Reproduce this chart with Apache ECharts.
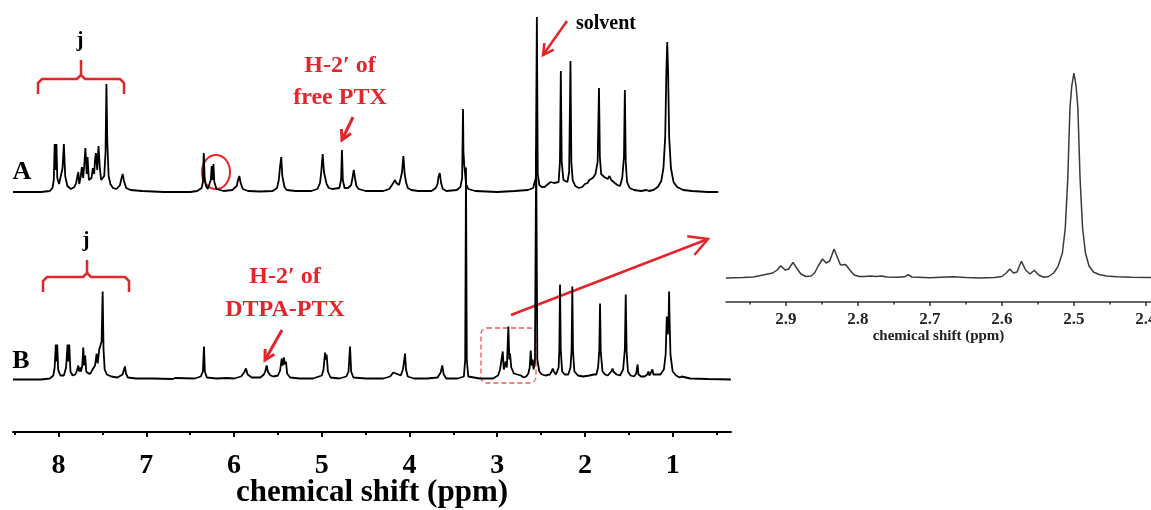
<!DOCTYPE html>
<html>
<head>
<meta charset="utf-8">
<title>1H NMR</title>
<script src="https://cdn.jsdelivr.net/npm/echarts@6/dist/echarts.min.js"></script>
<style>
    html, body { margin: 0; padding: 0; background: #fff; }
    #chart { width: 1151px; height: 510px; }
</style>
</head>
<body>
<div id="chart"></div>
<script>
// 谱图 A：游离 PTX  [ppm, 强度]
const spectrumA = [
    [8.52, 0], [8.20, 0], [8.10, 1], [8.07, 4], [8.055, 12], [8.045, 48], [8.035, 22], [8.025, 48], [8.015, 14],
    [7.995, 8], [7.975, 10], [7.955, 24], [7.94, 48], [7.925, 16], [7.90, 6], [7.86, 3], [7.82, 5], [7.80, 9],
    [7.785, 16], [7.775, 20], [7.765, 8], [7.75, 14], [7.735, 25], [7.72, 14], [7.705, 30], [7.695, 44], [7.68, 18],
    [7.67, 35], [7.655, 12], [7.64, 10], [7.625, 14], [7.61, 24], [7.595, 18], [7.585, 32], [7.575, 39], [7.56, 22],
    [7.545, 46], [7.53, 24], [7.515, 12], [7.50, 10], [7.48, 16], [7.465, 40], [7.455, 108], [7.445, 50], [7.43, 16],
    [7.41, 8], [7.38, 4], [7.34, 3], [7.30, 7], [7.285, 13], [7.27, 18], [7.255, 11], [7.23, 4], [7.18, 2], [7.05, 1],
    [6.80, 0], [6.50, 0], [6.42, 1], [6.37, 4], [6.355, 10], [6.345, 39], [6.335, 14], [6.32, 6], [6.30, 3],
    [6.28, 5], [6.265, 12], [6.255, 26], [6.245, 12], [6.235, 28], [6.225, 10], [6.20, 3], [6.12, 1], [6.02, 2],
    [5.97, 6], [5.955, 12], [5.94, 16], [5.925, 9], [5.90, 3], [5.84, 1], [5.70, 0.5], [5.56, 1], [5.51, 4],
    [5.49, 12], [5.475, 26], [5.462, 35], [5.45, 16], [5.44, 14], [5.425, 5], [5.40, 2], [5.30, 1], [5.12, 1],
    [5.05, 3], [5.02, 9], [5.005, 21], [4.99, 38], [4.975, 20], [4.96, 18], [4.945, 8], [4.92, 4], [4.88, 3],
    [4.80, 4], [4.78, 12], [4.77, 42], [4.76, 12], [4.74, 4], [4.70, 4], [4.665, 7], [4.65, 14], [4.635, 22],
    [4.62, 13], [4.605, 6], [4.58, 3], [4.50, 1], [4.30, 1], [4.23, 3], [4.20, 7], [4.19, 9], [4.18, 6],
    [4.165, 12], [4.15, 9], [4.135, 11], [4.12, 7], [4.10, 14], [4.085, 20], [4.07, 36], [4.055, 18], [4.04, 10],
    [4.02, 4], [3.98, 2], [3.90, 1], [3.75, 1], [3.70, 4], [3.68, 8], [3.67, 15], [3.655, 19], [3.64, 9],
    [3.62, 3], [3.58, 1], [3.46, 2], [3.42, 5], [3.40, 14], [3.39, 83], [3.385, 40], [3.375, 26], [3.365, 24],
    [3.355, 8], [3.33, 3], [3.25, 1], [3.00, 0], [2.80, 1], [2.65, 2], [2.59, 4], [2.56, 14], [2.548, 175],
    [2.538, 18], [2.52, 7], [2.49, 5], [2.46, 5], [2.42, 8], [2.39, 10], [2.37, 12], [2.35, 9], [2.33, 7],
    [2.30, 10], [2.285, 30], [2.275, 121], [2.265, 30], [2.245, 12], [2.225, 10], [2.20, 10], [2.18, 20],
    [2.165, 131], [2.155, 30], [2.14, 12], [2.11, 6], [2.07, 4], [2.03, 5], [2.00, 8], [1.97, 9], [1.95, 12],
    [1.93, 10], [1.91, 14], [1.88, 18], [1.855, 30], [1.84, 104], [1.83, 35], [1.815, 18], [1.80, 20],
    [1.78, 15], [1.76, 17], [1.74, 13], [1.72, 16], [1.70, 12], [1.68, 14], [1.66, 9], [1.63, 7], [1.60, 6],
    [1.575, 14], [1.555, 35], [1.545, 102], [1.535, 30], [1.52, 10], [1.49, 4], [1.44, 2], [1.36, 1],
    [1.30, 2], [1.285, 4], [1.27, 1], [1.22, 2], [1.17, 5], [1.13, 11], [1.105, 24], [1.085, 55], [1.072, 120],
    [1.062, 150], [1.052, 120], [1.04, 55], [1.02, 24], [0.99, 10], [0.95, 5], [0.88, 2], [0.78, 1], [0.60, 0],
    [0.48, 0]
]

// 谱图 B：DTPA-PTX
const spectrumB = [
    [8.52, 0], [8.20, 0], [8.10, 1], [8.06, 4], [8.045, 12], [8.032, 35], [8.024, 18], [8.016, 35], [8.005, 10],
    [7.98, 4], [7.94, 4], [7.915, 12], [7.898, 35], [7.889, 18], [7.879, 35], [7.865, 8], [7.84, 4], [7.81, 5],
    [7.79, 9], [7.776, 14], [7.767, 8], [7.757, 12], [7.745, 8], [7.73, 14], [7.719, 32], [7.709, 14],
    [7.697, 24], [7.685, 8], [7.66, 6], [7.635, 6], [7.62, 9], [7.612, 11], [7.60, 8], [7.585, 14], [7.567, 26],
    [7.555, 16], [7.537, 30], [7.525, 30], [7.51, 38], [7.498, 88], [7.488, 30], [7.475, 10], [7.45, 5],
    [7.40, 3], [7.33, 2], [7.27, 5], [7.255, 10], [7.244, 13], [7.232, 6], [7.21, 2], [7.12, 1], [7.00, 1],
    [6.93, 1], [6.92, 2.5], [6.91, 1], [6.70, 0.5], [6.67, 1.5], [6.65, 0.5], [6.45, 1], [6.38, 3], [6.355, 8],
    [6.343, 33], [6.333, 8], [6.31, 2], [6.20, 1], [6.08, 1.5], [6.00, 1], [5.92, 3], [5.885, 7], [5.864, 11],
    [5.845, 5], [5.80, 2], [5.70, 2], [5.66, 5], [5.645, 8], [5.628, 14], [5.615, 8], [5.598, 9], [5.585, 4],
    [5.55, 3], [5.50, 4], [5.475, 9], [5.457, 21], [5.445, 14], [5.431, 22], [5.42, 15], [5.408, 18], [5.395, 6],
    [5.36, 2], [5.25, 1], [5.10, 1], [5.00, 4], [4.98, 10], [4.963, 27], [4.954, 20], [4.945, 25], [4.93, 8],
    [4.90, 2], [4.80, 1], [4.72, 3], [4.695, 8], [4.678, 33], [4.665, 8], [4.64, 2], [4.50, 1], [4.30, 1],
    [4.22, 3], [4.20, 5], [4.185, 7], [4.17, 5], [4.155, 6], [4.14, 8], [4.125, 5], [4.10, 4], [4.075, 10],
    [4.062, 18], [4.051, 26], [4.04, 10], [4.02, 3], [3.95, 1], [3.80, 1], [3.68, 2], [3.645, 7], [3.626, 14],
    [3.61, 5], [3.58, 1], [3.45, 1], [3.38, 3], [3.365, 20], [3.356, 212], [3.347, 20], [3.33, 3], [3.20, 1],
    [3.05, 1], [2.99, 4], [2.968, 10], [2.95, 12], [2.937, 28], [2.925, 10], [2.912, 14], [2.903, 18], [2.89, 12],
    [2.873, 53], [2.862, 20], [2.854, 26], [2.84, 12], [2.825, 10], [2.81, 6], [2.79, 4], [2.77, 5], [2.75, 3],
    [2.73, 4], [2.70, 2], [2.67, 3], [2.645, 6], [2.63, 12], [2.618, 29], [2.607, 14], [2.595, 20], [2.585, 10],
    [2.57, 18], [2.556, 230], [2.543, 20], [2.52, 8], [2.49, 5], [2.45, 4], [2.40, 5], [2.38, 8], [2.367, 11],
    [2.355, 8], [2.33, 5], [2.30, 12], [2.292, 30], [2.284, 95], [2.276, 30], [2.26, 8], [2.23, 5], [2.19, 5],
    [2.165, 12], [2.152, 30], [2.144, 93], [2.136, 28], [2.12, 8], [2.08, 4], [2.02, 3], [1.95, 4], [1.90, 5],
    [1.87, 5], [1.85, 12], [1.836, 30], [1.828, 76], [1.82, 28], [1.80, 8], [1.77, 5], [1.74, 4], [1.72, 5],
    [1.70, 8], [1.685, 11], [1.676, 8], [1.66, 9], [1.64, 5], [1.60, 4], [1.565, 10], [1.545, 30], [1.535, 85],
    [1.525, 28], [1.51, 8], [1.48, 4], [1.44, 3], [1.415, 6], [1.40, 15], [1.39, 5], [1.36, 3], [1.32, 3],
    [1.29, 5], [1.277, 8], [1.265, 4], [1.245, 5], [1.23, 10], [1.22, 5], [1.20, 4], [1.14, 5], [1.10, 10],
    [1.08, 25], [1.067, 63], [1.056, 45], [1.046, 60], [1.041, 88], [1.035, 60], [1.025, 25], [1.00, 8],
    [0.96, 4], [0.92, 2], [0.896, 3], [0.88, 1.5], [0.80, 1], [0.60, 0.5], [0.337, 0]
]

// 局部放大 2.4 - 3.0 ppm
const spectrumZoom = [
    [2.983, 0], [2.96, 0.5], [2.945, 1], [2.935, 2.5], [2.925, 4], [2.918, 5], [2.912, 8], [2.907, 12.3],
    [2.901, 8], [2.896, 9], [2.890, 15.7], [2.885, 10], [2.879, 4], [2.872, 1.5], [2.865, 2], [2.860, 5],
    [2.855, 12], [2.849, 19], [2.844, 15], [2.839, 17], [2.833, 29], [2.828, 20], [2.824, 13], [2.817, 13.5],
    [2.811, 8], [2.805, 3], [2.798, 1.5], [2.790, 1.5], [2.783, 2], [2.775, 1.5], [2.767, 2], [2.760, 1],
    [2.745, 0.7], [2.735, 1.2], [2.730, 3.3], [2.725, 1], [2.70, 0.3], [2.685, 0.8], [2.668, 1.2], [2.65, 0.5],
    [2.63, 0], [2.61, 0.5], [2.600, 1.5], [2.594, 5], [2.589, 9], [2.584, 5], [2.579, 6], [2.573, 16.7],
    [2.567, 8], [2.561, 4], [2.555, 7.7], [2.549, 3], [2.542, 0.8], [2.535, 1.5], [2.528, 5], [2.522, 11.7],
    [2.516, 25], [2.512, 50], [2.5085, 100], [2.5055, 170], [2.503, 192], [2.500, 205], [2.497, 192],
    [2.4945, 170], [2.4915, 100], [2.488, 50], [2.484, 25], [2.479, 12], [2.473, 6], [2.465, 3.5], [2.455, 2],
    [2.44, 1.2], [2.42, 0.8], [2.393, 0.5]
]

// 刻度
const majorTicks = [1, 2, 3, 4, 5, 6, 7, 8]
const minorTicks = [0.5, 1.5, 2.5, 3.5, 4.5, 5.5, 6.5, 7.5, 8.5]
const zoomTicks = [2.4, 2.5, 2.6, 2.7, 2.8, 2.9]
const zoomMinorTicks = [2.45, 2.55, 2.65, 2.75, 2.85, 2.95]

const RED = '#e3262b'
const SERIF = '"Liberation Serif", "Times New Roman", serif'

// 箭头：线段 + V 形箭头
function arrow(x1, y1, x2, y2, size, width) {
    const a = Math.atan2(y1 - y2, x1 - x2)
    const p1 = [x2 + size * Math.cos(a + 0.5), y2 + size * Math.sin(a + 0.5)]
    const p2 = [x2 + size * Math.cos(a - 0.5), y2 + size * Math.sin(a - 0.5)]
    return [
        { type: 'line', shape: { x1: x1, y1: y1, x2: x2, y2: y2 }, style: { stroke: RED, lineWidth: width } },
        { type: 'polyline', shape: { points: [p1, [x2, y2], p2] }, style: { stroke: RED, lineWidth: width, fill: null, lineJoin: 'miter' } }
    ]
}

// 括号
function brace(left, right, mid, y, legY, topY) {
    return [
        { type: 'polyline', shape: { points: [[left, legY], [left, y + 4], [left + 4, y], [mid - 4, y], [mid, y - 4], [mid, topY]] }, style: { stroke: RED, lineWidth: 2.5, fill: null } },
        { type: 'polyline', shape: { points: [[mid, y - 4], [mid + 4, y], [right - 4, y], [right, y + 4], [right, legY]] }, style: { stroke: RED, lineWidth: 2.5, fill: null } }
    ]
}

function text(str, x, y, size, color) {
    return {
        type: 'text', x: x, y: y,
        style: { text: str, font: 'bold ' + size + 'px ' + SERIF, fill: color, textAlign: 'center', textVerticalAlign: 'middle', align: 'center', verticalAlign: 'middle' }
    }
}

const chartDom = document.querySelector('#chart')
const chart = echarts.init(chartDom)

const graphics = [].concat(
    text('A', 22, 172, 26, '#000'),
    text('B', 21, 361, 26, '#000'),
    text('j', 80, 41, 21, '#000'),
    text('j', 86, 241, 21, '#000'),
    brace(38, 124, 81, 79, 94, 60),
    brace(43, 129, 87, 277, 292, 260),
    text('solvent', 606, 24, 20, '#000'),
    arrow(567, 21, 543, 55, 12, 2.5),
    text('H-2\u2032 of', 340, 66, 24, RED),
    text('free PTX', 340, 98, 24, RED),
    arrow(353, 117, 342, 140, 11, 3),
    text('H-2\u2032 of', 285, 277, 24, RED),
    text('DTPA-PTX', 285, 310, 24, RED),
    arrow(282, 330, 265, 360, 11, 3),
    [{ type: 'ellipse', shape: { cx: 216, cy: 172, rx: 14, ry: 17 }, style: { stroke: RED, lineWidth: 2, fill: null } }],
    [{ type: 'rect', shape: { x: 481, y: 328, width: 55, height: 55, r: 6 }, style: { stroke: '#e85a5e', lineWidth: 1.3, lineDash: [5, 3], fill: null } }],
    arrow(511, 315, 708, 239, 21, 2.5)
)

const option = {
    animation: false,
    backgroundColor: '#fff',
    grid: [
        { left: 13, right: 420, top: 0, bottom: 78, containLabel: false, outerBoundsMode: 'none' },
        { left: 726, right: 0, top: 62, bottom: 208, containLabel: false, outerBoundsMode: 'none' }
    ],
    xAxis: [
        {
            // 主坐标轴
            type: 'value', gridIndex: 0, position: 'bottom', min: 0.335, max: 8.52, inverse: true,
            axisLine: { onZero: false, lineStyle: { color: '#000', width: 2 } },
            axisTick: { customValues: majorTicks, length: 5, lineStyle: { color: '#000', width: 2 } },
            axisLabel: { customValues: majorTicks, color: '#000', fontSize: 28, fontWeight: 'bold', fontFamily: SERIF, margin: 20 },
            splitLine: { show: false },
            name: 'chemical shift (ppm)', nameLocation: 'middle', nameGap: 45, nameMoveOverlap: false,
            nameTextStyle: { color: '#000', fontSize: 31, fontWeight: 'bold', fontFamily: SERIF }
        },
        {
            // 次刻度
            type: 'value', gridIndex: 0, position: 'bottom', min: 0.335, max: 8.52, inverse: true,
            axisLine: { show: false, onZero: false },
            axisTick: { customValues: minorTicks, length: 3, lineStyle: { color: '#000', width: 2 } },
            axisLabel: { show: false },
            splitLine: { show: false }
        },
        {
            // 放大图坐标轴
            type: 'value', gridIndex: 1, position: 'bottom', min: 2.393, max: 2.983, inverse: true,
            axisLine: { onZero: false, lineStyle: { color: '#333', width: 1.5 } },
            axisTick: { customValues: zoomTicks, length: 4, lineStyle: { color: '#333', width: 1.5 } },
            axisLabel: { customValues: zoomTicks, formatter: v => v.toFixed(1), color: '#222', fontSize: 17, fontWeight: 'bold', fontFamily: SERIF, margin: 9 },
            splitLine: { show: false },
            name: 'chemical shift (ppm)', nameLocation: 'middle', nameGap: 27,
            nameTextStyle: { color: '#222', fontSize: 15, fontWeight: 'bold', fontFamily: SERIF }
        },
        {
            type: 'value', gridIndex: 1, position: 'bottom', min: 2.393, max: 2.983, inverse: true,
            axisLine: { show: false, onZero: false },
            axisTick: { customValues: zoomMinorTicks, length: 2.5, lineStyle: { color: '#333', width: 1.5 } },
            axisLabel: { show: false },
            splitLine: { show: false }
        }
    ],
    yAxis: [
        { type: 'value', gridIndex: 0, min: -240, max: 192, show: false },
        { type: 'value', gridIndex: 0, min: -52.5, max: 379.5, show: false },
        { type: 'value', gridIndex: 1, min: -24, max: 216, show: false }
    ],
    series: [
        {
            name: 'A', type: 'line', xAxisIndex: 0, yAxisIndex: 0, data: spectrumA,
            showSymbol: false, lineStyle: { color: '#000', width: 1.8 }, clip: false
        },
        {
            name: 'B', type: 'line', xAxisIndex: 0, yAxisIndex: 1, data: spectrumB,
            showSymbol: false, lineStyle: { color: '#000', width: 1.8 }, clip: false
        },
        {
            name: 'zoom', type: 'line', xAxisIndex: 2, yAxisIndex: 2, data: spectrumZoom,
            showSymbol: false, lineStyle: { color: '#3a3a3a', width: 1.5 }, clip: false
        }
    ],
    graphic: { elements: graphics }
}
chart.setOption(option)

window.addEventListener('resize', () => {
    chart.resize()
})
</script>
</body>
</html>
